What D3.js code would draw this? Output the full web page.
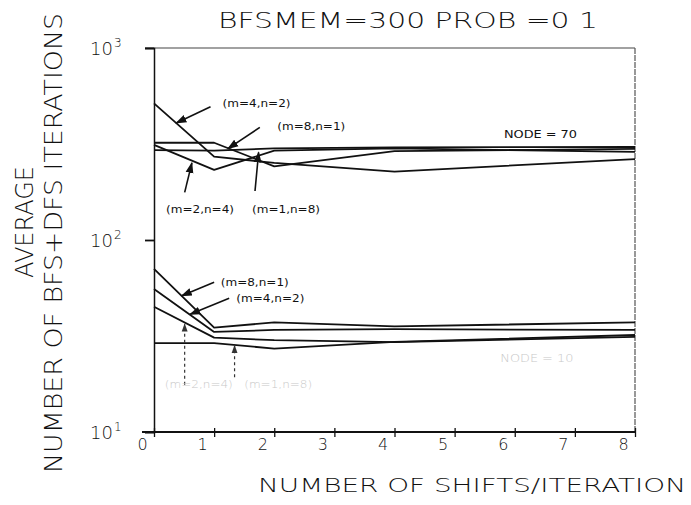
<!DOCTYPE html>
<html>
<head>
<meta charset="utf-8">
<script src="https://cdn.jsdelivr.net/npm/d3@7/dist/d3.min.js"></script>
<style>
  body { margin: 0; background: #fff; }
  svg { display: block; }
  text { font-family: "DejaVu Sans", "Liberation Sans", sans-serif; font-weight: 200; fill: #111; }
</style>
</head>
<body>
<svg id="chart" width="691" height="505"></svg>
<script>
// number of shifts per iteration (x values of the plotted points)
var shifts = [0, 1, 2, 4, 8];
var xTicks = [0, 1, 2, 3, 4, 5, 6, 7, 8];
var yTicks = [10, 100, 1000];
var yTickExp = ["1", "2", "3"];

// NODE = 70 group
var up_m4n2 = [515, 272, 252, 227, 264];
var up_m8n1 = [321, 321, 242, 290, 298];
var up_m2n4 = [313, 232, 292, 300, 288];
var up_m1n8 = [294, 292, 300, 304, 305];

// lower group (smaller graph)
var lo_m8n1 = [70.7, 35.0, 37.2, 35.5, 37.2];
var lo_m4n2 = [55.6, 33.2, 34.0, 34.3, 34.0];
var lo_m2n4 = [44.9, 31.0, 30.1, 29.4, 31.3];
var lo_m1n8 = [29.0, 29.0, 27.2, 29.5, 32.0];

var seriesList = [up_m4n2, up_m8n1, up_m2n4, up_m1n8, lo_m8n1, lo_m4n2, lo_m2n4, lo_m1n8];

// labels with arrows: text position and arrow tail -> tip, in data units
var labels = [
  {t: "(m=4,n=2)", x: 1.14, v: 515, x1: 0.94, v1: 494, x2: 0.37, v2: 407},
  {t: "(m=8,n=1)", x: 2.05, v: 394, x1: 1.76, v1: 386, x2: 1.23, v2: 299},
  {t: "(m=2,n=4)", x: 0.20, v: 145, x1: 0.51, v1: 177, x2: 0.63, v2: 252},
  {t: "(m=1,n=8)", x: 1.63, v: 145, x1: 1.68, v1: 180, x2: 1.74, v2: 286},
  {t: "(m=8,n=1)", x: 1.11, v: 60.3, x1: 1.00, v1: 60.3, x2: 0.46, v2: 51.2},
  {t: "(m=4,n=2)", x: 1.37, v: 49.7, x1: 1.25, v1: 49.7, x2: 0.60, v2: 41.0}
];
// faint (badly printed) labels of the lower group
var faintLabels = [
  {t: "(m=2,n=4)", x: 0.18, v: 17.8, x1: 0.51, v1: 17.6, x2: 0.51, v2: 36.5},
  {t: "(m=1,n=8)", x: 1.50, v: 17.8, x1: 1.34, v1: 19.3, x2: 1.34, v2: 28.2}
];

var svg = d3.select("#chart");
var x = d3.scaleLinear().domain([0, 8]).range([154, 635]);
var y = d3.scaleLog().domain([10, 1000]).range([432, 48]);

var defs = svg.append("defs");
defs.append("marker").attr("id", "head")
    .attr("viewBox", "0 0 10 10").attr("refX", 9).attr("refY", 5)
    .attr("markerWidth", 7).attr("markerHeight", 7).attr("orient", "auto")
    .append("path").attr("d", "M0,1.5 L10,5 L0,8.5 Z").attr("fill", "#111");
defs.append("marker").attr("id", "headFaint")
    .attr("viewBox", "0 0 10 10").attr("refX", 9).attr("refY", 5)
    .attr("markerWidth", 7).attr("markerHeight", 7).attr("orient", "auto")
    .append("path").attr("d", "M0,1.5 L10,5 L0,8.5 Z").attr("fill", "#333");

//********** frame
svg.append("line").attr("x1", 145).attr("x2", x(8)).attr("y1", y(1000)).attr("y2", y(1000))
    .attr("stroke", "#444").attr("stroke-width", 1.2);
svg.append("line").attr("x1", x(8)).attr("x2", x(8)).attr("y1", y(1000)).attr("y2", y(10))
    .attr("stroke", "#555").attr("stroke-width", 1.2).attr("stroke-dasharray", "6,1");

//********** x axis
var xAxis = svg.append("g").attr("transform", "translate(0," + y(10) + ")")
    .call(d3.axisBottom(x).tickValues(xTicks).tickSize(5).tickFormat(d3.format("d")));
xAxis.select(".domain").remove();
xAxis.append("line").attr("x1", 142).attr("x2", x(8)).attr("stroke", "#111").attr("stroke-width", 1.8);
xAxis.selectAll(".tick line").attr("y1", -4).attr("stroke", "#111").attr("stroke-width", 1.3);
xAxis.selectAll(".tick text").attr("x", -12).attr("y", 7).attr("dy", "0.71em")
    .style("font-family", "'DejaVu Sans', sans-serif").style("font-weight", "200")
    .style("font-size", "16px").attr("fill", "#111");

//********** y axis
var yAxis = svg.append("g").attr("transform", "translate(" + x(0) + ",0)")
    .call(d3.axisLeft(y).tickValues(yTicks).tickSize(9).tickFormat(""));
yAxis.select(".domain").attr("stroke", "#111").attr("stroke-width", 1.5);
yAxis.selectAll(".tick line").attr("stroke", "#111").attr("stroke-width", 1.8);

var yLab = svg.append("g").selectAll("text").data(yTicks).enter().append("text")
    .attr("x", 90).attr("y", function(d) { return y(d) + 7; })
    .style("font-size", "18px");
yLab.append("tspan").text("10");
yLab.append("tspan").attr("dy", -8).attr("dx", 1).style("font-size", "12px")
    .text(function(d, i) { return yTickExp[i]; });

//********** curves
var line = d3.line().x(function(d, i) { return x(shifts[i]); }).y(function(d) { return y(d); });
svg.append("g").selectAll("path").data(seriesList).enter().append("path")
    .attr("d", line).attr("fill", "none").attr("stroke", "#111")
    .attr("stroke-width", 1.8).attr("stroke-linejoin", "round");

//********** annotations
var ann = svg.append("g");
ann.selectAll("line.arrow").data(labels).enter().append("line").attr("class", "arrow")
    .attr("x1", function(d) { return x(d.x1); }).attr("y1", function(d) { return y(d.v1); })
    .attr("x2", function(d) { return x(d.x2); }).attr("y2", function(d) { return y(d.v2); })
    .attr("stroke", "#111").attr("stroke-width", 1.6).attr("marker-end", "url(#head)");
ann.selectAll("text.lab").data(labels).enter().append("text").attr("class", "lab")
    .attr("x", function(d) { return x(d.x); }).attr("y", function(d) { return y(d.v) + 4; })
    .attr("textLength", 68).attr("lengthAdjust", "spacingAndGlyphs")
    .style("font-size", "11px").style("font-weight", "400").text(function(d) { return d.t; });

ann.selectAll("line.faint").data(faintLabels).enter().append("line").attr("class", "faint")
    .attr("x1", function(d) { return x(d.x1); }).attr("y1", function(d) { return y(d.v1); })
    .attr("x2", function(d) { return x(d.x2); }).attr("y2", function(d) { return y(d.v2); })
    .attr("stroke", "#333").attr("stroke-width", 1.2).attr("stroke-dasharray", "3,3")
    .attr("marker-end", "url(#headFaint)");
ann.selectAll("text.flab").data(faintLabels).enter().append("text").attr("class", "flab")
    .attr("x", function(d) { return x(d.x); }).attr("y", function(d) { return y(d.v) + 4; })
    .attr("textLength", 68).attr("lengthAdjust", "spacingAndGlyphs")
    .style("font-size", "11px").style("fill", "#c8c8c8").text(function(d) { return d.t; });

ann.append("text").attr("x", x(5.82)).attr("y", y(357) + 4)
    .attr("textLength", 73).attr("lengthAdjust", "spacingAndGlyphs")
    .style("font-size", "11px").style("font-weight", "400").text("NODE = 70");
ann.append("text").attr("x", x(5.76)).attr("y", y(24.3) + 4)
    .attr("textLength", 73).attr("lengthAdjust", "spacingAndGlyphs")
    .style("font-size", "11px").style("fill", "#c8c8c8").text("NODE = 10");

//********** titles
svg.append("text").attr("x", 218).attr("y", 28)
    .attr("textLength", 380).attr("lengthAdjust", "spacingAndGlyphs")
    .style("font-size", "21px").text("BFSMEM=300  PROB =0 1");

svg.append("text").attr("x", 258).attr("y", 492)
    .attr("textLength", 428).attr("lengthAdjust", "spacingAndGlyphs")
    .style("font-size", "20px").text("NUMBER OF SHIFTS/ITERATION");

svg.append("text").attr("transform", "translate(62,243) rotate(-90)")
    .attr("text-anchor", "middle")
    .attr("textLength", 460).attr("lengthAdjust", "spacingAndGlyphs")
    .style("font-size", "25px").text("NUMBER OF BFS+DFS ITERATIONS");

svg.append("text").attr("transform", "translate(33,222) rotate(-90)")
    .attr("text-anchor", "middle")
    .attr("textLength", 112).attr("lengthAdjust", "spacingAndGlyphs")
    .style("font-size", "25px").text("AVERAGE");
</script>
</body>
</html>
